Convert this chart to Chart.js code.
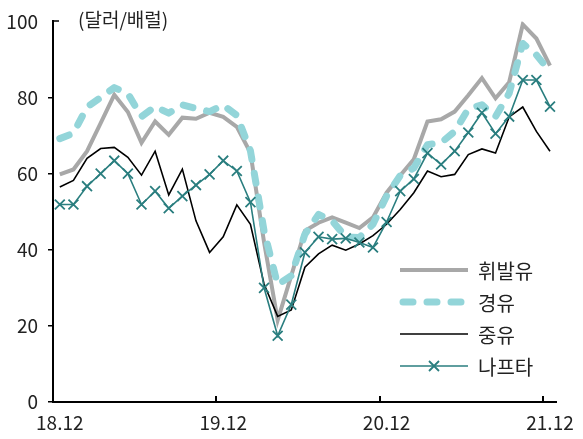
<!DOCTYPE html>
<html>
<head>
<meta charset="utf-8">
<script src="https://cdn.jsdelivr.net/npm/chart.js@4.4.1/dist/chart.umd.min.js"></script>
<style>
  body { margin: 0; background: #fff; }
  #wrap { position: relative; width: 583px; height: 439px; font-family: 'Noto Sans CJK KR', 'Noto Sans', sans-serif; color: #222; }
  #unit { position: absolute; left: 78px; top: 5px; font-size: 19px; line-height: 28px; }
  #legend { position: absolute; left: 398px; top: 254px; }
  .item { display: flex; align-items: center; height: 32px; font-size: 20px; }
  .item svg { margin-right: 8px; }
</style>
</head>
<body>
<div id="wrap">
  <canvas id="chart" width="583" height="439"></canvas>
  <div id="unit">(달러/배럴)</div>
  <div id="legend"></div>
</div>
<script>
// 월별 카테고리 (18.12 ~ 21.12)
const months = [
  "18.12", "19.01", "19.02", "19.03", "19.04", "19.05", "19.06", "19.07", "19.08", "19.09", "19.10", "19.11",
  "19.12", "20.01", "20.02", "20.03", "20.04", "20.05", "20.06", "20.07", "20.08", "20.09", "20.10", "20.11",
  "20.12", "21.01", "21.02", "21.03", "21.04", "21.05", "21.06", "21.07", "21.08", "21.09", "21.10", "21.11",
  "21.12",
];

// 유종별 가격 (달러/배럴)
const gasoline = [
  59.8, 61.1, 65.9, 73.3, 80.7, 76.2, 68.1, 73.7, 70.2, 74.7, 74.4, 76.0, 74.9, 72.3, 65.5, 42.0, 21.5, 33.2, 45.0,
  47.1, 48.5, 47.1, 45.7, 48.5, 55.0, 59.5, 63.8, 73.7, 74.3, 76.3, 80.6, 85.1, 79.8, 84.0, 99.2, 95.5, 88.4,
];
const diesel = [
  69.2, 70.6, 77.5, 80.0, 82.6, 81.0, 75.0, 77.6, 75.9, 78.1, 77.1, 76.3, 78.0, 75.3, 66.0, 45.0, 30.8, 33.2, 44.1,
  49.3, 47.6, 43.4, 43.2, 46.7, 54.1, 59.5, 61.5, 67.6, 68.1, 71.1, 77.0, 78.1, 75.0, 81.1, 94.2, 91.2, 86.8,
];
const fuelOil = [
  56.5, 58.2, 64.0, 66.6, 66.9, 64.3, 59.6, 65.9, 54.4, 61.2, 47.6, 39.3, 43.4, 51.8, 46.7, 31.0, 22.5, 24.2, 35.4,
  38.9, 41.2, 39.9, 41.5, 43.7, 46.7, 50.6, 55.0, 60.7, 59.2, 59.8, 65.0, 66.5, 65.4, 74.9, 77.5, 71.1, 65.9,
];
const naphtha = [
  51.9, 51.9, 56.7, 60.0, 63.4, 60.0, 51.9, 55.4, 50.9, 54.1, 57.0, 59.8, 63.4, 60.7, 52.5, 30.0, 17.4, 25.6, 39.3,
  43.4, 42.8, 43.0, 41.9, 40.6, 47.3, 55.4, 58.6, 65.4, 62.4, 65.9, 70.8, 76.0, 70.5, 75.0, 84.6, 84.6, 77.6,
];

const seriesNames = ["휘발유", "경유", "중유", "나프타"];
const yTicks = [0, 20, 40, 60, 80, 100];

const colGray = "#a8a8a8";
const colDiesel = "#93d5d9";
const colTeal = "#2a7e7f";

Chart.defaults.font.family = "'Noto Sans CJK KR', 'Noto Sans', sans-serif";
Chart.defaults.font.size = 19;
Chart.defaults.color = "#222";

// 축 눈금: x축은 12월 경계에만 안쪽(위), y축 최상단은 안쪽(오른쪽)
const tickPlugin = {
  id: "axisTicks",
  afterDraw(chart) {
    const xs = chart.scales.x;
    const ys = chart.scales.y;
    const ctx = chart.ctx;
    const step = xs.getPixelForValue(1) - xs.getPixelForValue(0);
    ctx.save();
    ctx.strokeStyle = "#000";
    ctx.lineWidth = 2;
    months.forEach((m, i) => {
      if (!m.endsWith(".12")) return;
      const x = Math.round(xs.getPixelForValue(i) - step / 2);
      ctx.beginPath();
      ctx.moveTo(x, xs.top);
      ctx.lineTo(x, xs.top - 6);
      ctx.stroke();
    });
    const yTop = Math.round(ys.getPixelForValue(yTicks[yTicks.length - 1]));
    ctx.lineWidth = 1.5;
    ctx.beginPath();
    ctx.moveTo(ys.right, yTop);
    ctx.lineTo(ys.right + 6, yTop);
    ctx.stroke();
    ctx.restore();
  },
};

const ctx = document.getElementById("chart").getContext("2d");
const chart = new Chart(ctx, {
  type: "line",
  data: {
    labels: months,
    datasets: [
      {
        label: seriesNames[0],
        data: gasoline,
        borderColor: colGray,
        borderWidth: 4,
        pointRadius: 0,
        order: 4,
      },
      {
        label: seriesNames[1],
        data: diesel,
        borderColor: colDiesel,
        borderWidth: 7,
        borderDash: [10, 14],
        borderCapStyle: "round",
        borderJoinStyle: "round",
        pointRadius: 0,
        order: 3,
      },
      {
        label: seriesNames[2],
        data: fuelOil,
        borderColor: "#000",
        borderWidth: 1.6,
        pointRadius: 0,
        order: 2,
      },
      {
        label: seriesNames[3],
        data: naphtha,
        borderColor: colTeal,
        borderWidth: 1.6,
        pointStyle: "crossRot",
        pointRadius: 7,
        pointBorderWidth: 1.8,
        pointBorderColor: colTeal,
        order: 1,
      },
    ],
  },
  options: {
    responsive: false,
    animation: false,
    layout: { padding: { top: 19, right: 20, left: 0, bottom: 0 } },
    elements: { line: { tension: 0 } },
    plugins: {
      legend: { display: false },
      tooltip: { enabled: false },
    },
    scales: {
      x: {
        offset: true,
        grid: { display: true, drawOnChartArea: false, drawTicks: false, offset: true, color: "transparent" },
        border: { display: true, color: "#000", width: 2 },
        ticks: {
          autoSkip: false,
          maxRotation: 0,
          padding: 9,
          callback: (v, i) => (months[i].endsWith(".12") ? months[i] : ""),
        },
        afterFit: (s) => { s.height = 37; },
      },
      y: {
        min: 0,
        max: 100,
        afterBuildTicks: (s) => { s.ticks = yTicks.map((v) => ({ value: v })); },
        grid: {
          drawOnChartArea: false,
          drawTicks: true,
          tickLength: 5,
          lineWidth: 1.5,
          color: (c) => (c.tick && c.tick.value === 100 ? "transparent" : "#000"),
        },
        border: { display: true, color: "#000", width: 2 },
        ticks: { padding: 10 },
        afterFit: (s) => { s.width = 53; },
      },
    },
  },
  plugins: [tickPlugin],
});

// 범례 (HTML)
const legendStyles = [
  { color: colGray, width: 4, dash: "", cap: "butt", mark: false },
  { color: colDiesel, width: 7, dash: "10 14", cap: "round", mark: false },
  { color: "#000", width: 1.6, dash: "", cap: "butt", mark: false },
  { color: colTeal, width: 1.6, dash: "", cap: "butt", mark: true },
];
const legendEl = document.getElementById("legend");
seriesNames.forEach((name, i) => {
  const st = legendStyles[i];
  const x1 = st.cap === "round" ? 5 : 2;
  const x2 = st.cap === "round" ? 66 : 70;
  let svg = `<svg width="72" height="14"><line x1="${x1}" y1="7" x2="${x2}" y2="7" stroke="${st.color}" stroke-width="${st.width}" stroke-linecap="${st.cap}"${st.dash ? ` stroke-dasharray="${st.dash}"` : ""}/>`;
  if (st.mark) {
    svg += `<path d="M31 2 L41 12 M41 2 L31 12" stroke="${st.color}" stroke-width="1.8"/>`;
  }
  svg += "</svg>";
  const item = document.createElement("div");
  item.className = "item";
  item.innerHTML = svg + `<span>${name}</span>`;
  legendEl.appendChild(item);
});
</script>
</body>
</html>
